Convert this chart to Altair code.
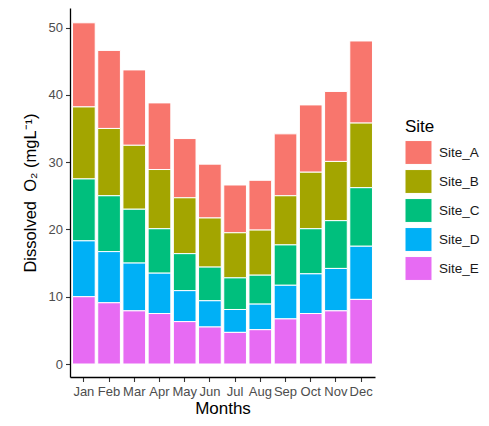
import altair as alt
import pandas as pd

months = ["Jan", "Feb", "Mar", "Apr", "May", "Jun", "Jul", "Aug", "Sep", "Oct", "Nov", "Dec"]
sites = ["Site_A", "Site_B", "Site_C", "Site_D", "Site_E"]
colors = ["#F8766D", "#A3A500", "#00BF7D", "#00B0F6", "#E76BF3"]

site_a = [12.5, 11.6, 11.2, 9.9, 8.8, 8.0, 7.1, 7.4, 9.2, 10.0, 10.4, 12.2]
site_b = [10.7, 10.0, 9.5, 8.8, 8.3, 7.3, 6.7, 6.7, 7.3, 8.4, 8.8, 9.6]
site_c = [9.2, 8.3, 8.0, 6.6, 5.5, 5.0, 4.7, 4.3, 6.0, 6.7, 7.1, 8.7]
site_d = [8.3, 7.6, 7.1, 6.0, 4.6, 3.9, 3.4, 3.8, 5.0, 5.9, 6.3, 7.9]
site_e = [10.0, 9.1, 7.9, 7.5, 6.3, 5.5, 4.7, 5.1, 6.7, 7.5, 7.9, 9.6]

series = [site_a, site_b, site_c, site_d, site_e]
rows = []
for si, (s, vals) in enumerate(zip(sites, series)):
    for m, v in zip(months, vals):
        rows.append({"Month": m, "Site": s, "value": v, "ord": len(sites) - si})
df = pd.DataFrame(rows)

font = "Liberation Sans"
rect_path = "M-1.05,-0.93H1.05V0.93H-1.05Z"

chart = alt.Chart(df).mark_bar(stroke="white", strokeWidth=1).encode(
    x=alt.X("Month:N", sort=months,
            scale=alt.Scale(paddingInner=0.1, paddingOuter=0.1),
            axis=alt.Axis(title="Months", labelAngle=0, labelOverlap=False,
                          labelFont=font, labelFontSize=13, labelColor="#4D4D4D",
                          titleFont=font, titleFontSize=17, titleFontWeight="normal",
                          titleColor="black", titlePadding=2,
                          domainColor="black", domainWidth=1.3,
                          tickColor="#333333", tickSize=4.5, tickWidth=1.1,
                          labelPadding=4, grid=False)),
    y=alt.Y("value:Q", stack="zero",
            scale=alt.Scale(domain=[-1.93, 52.9], zero=False, nice=False),
            axis=alt.Axis(title="Dissolved\u00a0\u00a0O₂ (mgL⁻¹)", values=[0, 10, 20, 30, 40, 50],
                          labelFont=font, labelFontSize=13, labelColor="#4D4D4D",
                          titleFont=font, titleFontSize=16.5, titleFontWeight="normal",
                          titleColor="black", titlePadding=10,
                          domainColor="black", domainWidth=1.3,
                          tickColor="#333333", tickSize=4.5, tickWidth=1.1,
                          labelPadding=3, grid=False)),
    color=alt.Color("Site:N", sort=sites,
                    scale=alt.Scale(domain=sites, range=colors),
                    legend=alt.Legend(title="Site", orient="none", legendX=335, legendY=111,
                                      titleFont=font, titleFontSize=17, titleFontWeight="normal",
                                      titleColor="black", titlePadding=3,
                                      labelFont=font, labelFontSize=13.5, labelColor="#1a1a1a",
                                      symbolType=rect_path, symbolSize=660,
                                      symbolStrokeColor="white", symbolStrokeWidth=1,
                                      symbolOpacity=1, rowPadding=0, labelOffset=7)),
    order=alt.Order("ord:Q", sort="ascending"),
).properties(
    width=305, height=369,
    autosize=alt.AutoSizeParams(type="none"),
    padding={"left": 62, "top": 0, "right": 106, "bottom": 41},
).configure_view(stroke=None)

chart.save("out.html", embed_options={"renderer": "svg", "actions": False})
